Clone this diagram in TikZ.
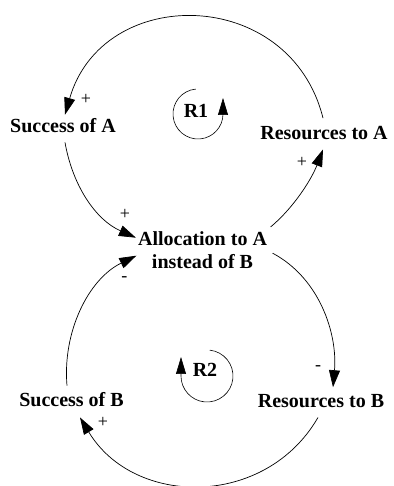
\documentclass[tikz,border=0pt]{standalone}
\usepackage{fontspec}
\setmainfont{Liberation Serif}
\usetikzlibrary{arrows.meta}

\begin{document}
\begin{tikzpicture}[x=1pt, y=1pt, >={Triangle[length=17pt,width=11pt]},
    var/.style={font=\fontsize{20}{23}\selectfont\bfseries, inner sep=0pt, align=center},
    sign/.style={font=\fontsize{18}{18}\selectfont, inner sep=0pt},
    link/.style={->, line width=0.7pt},
    loopsym/.style={-{Triangle[length=17pt,width=10pt]}, line width=0.6pt}]
    \useasboundingbox[fill=white] (0,0) rectangle (393,486);
    \node (sucA)  [var, anchor=base] at (63,353)  {Success of A};
    \node (resA)  [var, anchor=base] at (324,346) {Resources to A};
    \node (alloc) [var] at (202.5,236.3) {Allocation to A\\instead of B};
    \node (sucB)  [var, anchor=base] at (71.5,79) {Success of B};
    \node (resB)  [var, anchor=base] at (321,78)  {Resources to B};
    \node (r1)    [var, anchor=base] at (196,368) {R1};
    \node (r2)    [var, anchor=base] at (205,109) {R2};

    % loop R1
    \draw[link] ([shift={(-1,8.5)}]resA.north) to[out=104,in=74,looseness=1.35]
        node[sign, at end, shift={(21,15)}] {+} ([shift={(2,4)}]sucA.north);
    \draw[link] ([shift={(2,-9)}]sucA.south) to[out=280,in=156,looseness=0.95]
        node[sign, at end, shift={(-11,23)}] {+} ([shift={(-2,12)}]alloc.west);
    \draw[link] ([shift={(3.5,4)}]alloc.north east) to[out=40,in=249,looseness=0.85]
        node[sign, at end, shift={(-21,-13)}] {+} ([shift={(-1,-9)}]resA.south);
    % loop R2
    \draw[link] ([shift={(-4.5,7)}]sucB.north) to[out=95,in=206,looseness=0.93]
        node[sign, at end, shift={(-12,-23)}] {-} ([shift={(-1.5,-6)}]alloc.west);
    \draw[link] ([shift={(5.5,-3.5)}]alloc.east) to[out=332,in=85,looseness=0.93]
        node[sign, at end, shift={(-15,19)}] {-} ([shift={(12,7.5)}]resB.north);
    \draw[link] ([shift={(-3,-9)}]resB.south) to[out=240,in=301,looseness=1.13]
        node[sign, at end, shift={(23,-5)}] {+} ([shift={(8.5,-10)}]sucB.south);

    \draw[loopsym] ([shift={(2,4)}]r1.base) ++(95:25) arc[start angle=95, end angle=360, radius=25] -- ++(0,16);
    \draw[loopsym] ([shift={(2,1)}]r2.base) ++(84:26) arc[start angle=84, end angle=-180, radius=26] -- ++(0,19);
\end{tikzpicture}
\end{document}
